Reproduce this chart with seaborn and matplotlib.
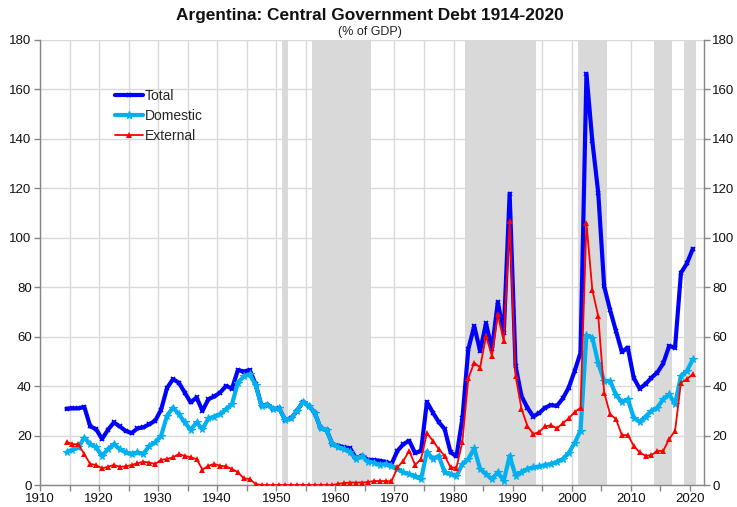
import numpy as np
import pandas as pd
import matplotlib
matplotlib.use("Agg")
import matplotlib.pyplot as plt
import seaborn as sns
from matplotlib.lines import Line2D

# ---------------- data (% of GDP) ----------------
years = list(range(1914, 2021))

total = [
    30.9, 31.0, 31.0, 31.6, 23.7, 22.6,                          # 1914-1919
    18.6, 22.3, 25.3, 23.7, 21.9, 21.0, 22.9, 23.3, 24.6, 26.0,  # 1920s
    30.5, 39.2, 42.8, 41.4, 37.4, 33.4, 35.4, 30.0, 34.7, 35.8,  # 1930s
    37.4, 40.1, 39.0, 46.5, 45.9, 46.5, 40.8, 32.0, 32.5, 30.7,  # 1940s
    31.0, 26.3, 26.9, 30.0, 33.6, 32.0, 29.3, 22.9, 22.3, 16.5,  # 1950s
    15.9, 15.2, 14.8, 10.8, 11.8, 10.2, 10.1, 9.8, 9.4, 8.5,     # 1960s
    13.8, 16.5, 17.9, 12.9, 13.8, 33.6, 29.3, 25.5, 22.6, 13.2,  # 1970s
    11.6, 26.9, 54.9, 64.3, 54.2, 65.4, 54.9, 74.0, 61.3, 117.8, # 1980s
    48.2, 36.0, 31.3, 27.7, 29.1, 31.3, 32.3, 32.0, 35.0, 39.4,  # 1990s
    46.1, 53.5, 166.3, 139.0, 118.1, 80.4, 70.8, 62.3, 53.8, 55.6,  # 2000s
    43.4, 39.0, 40.8, 43.4, 45.5, 49.2, 56.2, 55.6, 85.8, 89.6,  # 2010s
    95.5,                                                        # 2020
]

domestic = [
    13.2, 14.3, 15.2, 19.2, 16.5, 15.2,
    11.8, 14.5, 16.5, 14.5, 13.2, 12.5, 13.2, 12.5, 15.9, 17.2,
    19.9, 28.0, 31.3, 28.7, 25.3, 22.3, 25.3, 22.6, 26.9, 27.7,
    28.7, 30.7, 32.7, 41.4, 43.9, 44.8, 40.4, 32.0, 32.5, 30.7,
    31.0, 26.3, 26.9, 30.0, 33.6, 32.0, 29.3, 22.9, 22.3, 16.5,
    15.2, 14.5, 13.2, 10.5, 11.6, 9.4, 9.1, 8.1, 8.5, 7.5,
    6.5, 5.1, 4.4, 3.5, 2.4, 13.5, 10.5, 11.8, 5.1, 4.4,
    3.6, 8.5, 10.5, 14.8, 6.5, 4.4, 2.4, 5.1, 1.7, 11.8,
    3.8, 5.1, 6.5, 7.1, 7.5, 8.1, 8.5, 9.4, 10.5, 13.0,
    17.0, 22.0, 60.5, 59.6, 49.2, 42.1, 42.1, 36.5, 33.5, 34.7,
    27.3, 25.5, 27.7, 30.0, 31.3, 34.7, 36.7, 32.7, 44.1, 46.1,
    50.8,
]

external = [
    17.5, 16.5, 16.5, 12.5, 8.5, 8.1,
    6.7, 7.4, 8.1, 7.4, 7.5, 8.1, 8.8, 9.4, 9.1, 8.5,
    10.2, 10.5, 11.2, 12.5, 11.8, 11.2, 10.5, 6.2, 7.8, 8.5,
    7.8, 7.5, 6.5, 5.1, 2.7, 2.4, 0.4, 0.0, 0.0, 0.0,
    0.0, 0.0, 0.0, 0.0, 0.0, 0.0, 0.0, 0.0, 0.0, 0.0,
    0.5, 0.8, 1.0, 1.0, 1.0, 1.2, 1.6, 1.6, 1.6, 1.5,
    7.1, 9.8, 13.8, 8.1, 10.5, 21.0, 17.9, 14.5, 11.8, 7.1,
    7.0, 17.5, 43.1, 49.5, 47.5, 60.3, 52.2, 69.0, 58.2, 106.7,
    44.1, 30.9, 23.9, 20.6, 21.5, 23.7, 24.2, 22.9, 25.0, 27.0,
    29.5, 31.3, 106.0, 78.8, 68.3, 37.4, 28.7, 26.6, 20.2, 20.2,
    15.9, 13.2, 11.8, 12.1, 13.8, 13.8, 18.6, 21.9, 41.4, 42.8,
    44.8,
]

# shaded (crisis / default) periods: first and last year of each band
shade_start = [1951, 1956, 1982, 2001, 2014, 2019]
shade_end = [1951, 1965, 1993, 2005, 2016, 2020]

series_names = ["Total", "Domestic", "External"]
tick_years = list(range(1910, 2021, 5))
y_ticks = list(range(0, 181, 20))

df = pd.DataFrame({"year": years, "Total": total,
                   "Domestic": domestic, "External": external})

# ---------------- style ----------------
sns.set_style("white")
plt.rcParams["font.family"] = ["Liberation Sans", "DejaVu Sans"]

BLUE = "#0000FF"
CYAN = "#00B0F0"
RED = "#FF0000"

fig = plt.figure(figsize=(7.37, 5.07), dpi=100)
ax = fig.add_axes([40 / 737, 22 / 507, 664 / 737, 445 / 507])

# shaded bands (year categories span year-0.5 .. year+0.5)
for s, e in zip(shade_start, shade_end):
    ax.axvspan(s - 0.5, e + 0.5, color="#D9D9D9", lw=0, zorder=1)

sns.lineplot(data=df, x="year", y="Total", ax=ax, color=BLUE, lw=3.0,
             marker="x", markersize=3.5, markeredgewidth=1.2,
             markeredgecolor=BLUE, zorder=3)
sns.lineplot(data=df, x="year", y="Domestic", ax=ax, color=CYAN, lw=3.0,
             marker="*", markersize=5.5, markeredgewidth=0.8,
             markeredgecolor=CYAN, zorder=4)
sns.lineplot(data=df, x="year", y="External", ax=ax, color=RED, lw=1.3,
             marker="^", markersize=5, markeredgewidth=0,
             zorder=5)

# axes
ax.set_xlim(1909.5, 2021.9)
ax.set_ylim(0, 180)
ax.set_xticks([t - 0.5 for t in tick_years])
ax.set_xticklabels([str(t) if t % 10 == 0 else "" for t in tick_years])
ax.set_yticks(y_ticks)
ax.set_yticklabels([str(v) for v in y_ticks])
ax.set_xlabel("")
ax.set_ylabel("")

ax.grid(True, color="#D9D9D9", lw=1.0, zorder=0)
ax.set_axisbelow(True)

ax.tick_params(axis="both", which="both", direction="out", length=4,
               width=1, color="#868686", labelsize=9.5, labelcolor="#111111",
               pad=2)
ax.tick_params(axis="y", left=True, right=True, labelleft=True,
               labelright=True)
ax.tick_params(axis="x", bottom=True, pad=1.5)

for side in ["left", "right", "bottom"]:
    ax.spines[side].set_color("#868686")
    ax.spines[side].set_linewidth(1.0)
ax.spines["top"].set_visible(False)

# legend
handles = [
    Line2D([], [], color=BLUE, lw=3, marker="x", markersize=3.5,
           markeredgewidth=1.2),
    Line2D([], [], color=CYAN, lw=3, marker="*", markersize=5.5),
    Line2D([], [], color=RED, lw=1.3, marker="^", markersize=5,
           markeredgewidth=0),
]
ax.legend(handles, series_names, loc="upper left",
          bbox_to_anchor=(0.105, 0.903), frameon=False, fontsize=10,
          handlelength=2.0, handletextpad=0.1, labelspacing=0.45,
          borderaxespad=0)

# titles
fig.text(0.502, 0.970, "Argentina: Central Government Debt 1914-2020",
         ha="center", va="center", fontsize=12.4, fontweight="bold",
         color="#111111")
fig.text(0.502, 0.937, "(% of GDP)", ha="center", va="center",
         fontsize=9, color="#222222")

fig.savefig("out.png", dpi=100)
